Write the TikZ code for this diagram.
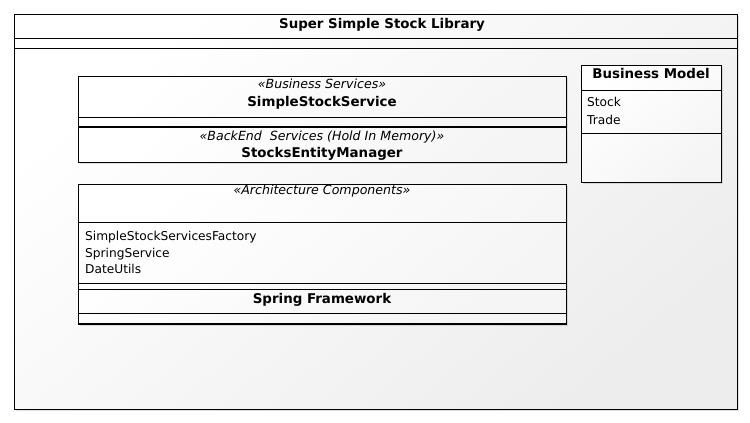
\documentclass[tikz,border=0pt]{standalone}
\usepackage{fontspec}
\setmainfont{DejaVu Sans}
\usetikzlibrary{shadows}
\begin{document}
\begin{tikzpicture}[x=1pt,y=-1pt,
  umlbox/.style={draw=black, line width=1pt, top color=white, bottom color=black!4, shading angle=40,
    drop shadow={shadow xshift=2pt, shadow yshift=-2pt, opacity=0.2, fill=black!60}},
  outerbox/.style={draw=black, line width=1pt, top color=white, bottom color=black!7, shading angle=40,
    drop shadow={shadow xshift=2pt, shadow yshift=-2pt, opacity=0.2, fill=black!60}},
  sep/.style={draw=black, line width=1pt},
  stereo/.style={anchor=base, font=\fontsize{12.6}{14}\selectfont\itshape, inner sep=0pt},
  cname/.style={anchor=base, font=\fontsize{13.4}{15}\selectfont\bfseries, inner sep=0pt},
  attr/.style={anchor=base west, font=\fontsize{12.2}{14}\selectfont, inner sep=0pt},
  ttl/.style={anchor=base, font=\fontsize{13.4}{15}\selectfont\bfseries, inner sep=0pt}]
\useasboundingbox (0,0) rectangle (750,423);
% outer package box
\path[outerbox] (14,14) rectangle (737,409);
\draw[sep] (14,38) -- (737,38);
\draw[sep] (14,48) -- (737,48);
\node[ttl] (title) at (382,28.5) {Super Simple Stock Library};
% SimpleStockService
\path[umlbox] (78,76) rectangle (566,126);
\draw[sep] (78,117) -- (566,117);
\node[stereo] (s1) at (322,88) {«Business Services»};
\node[cname] (n1) at (322,106) {SimpleStockService};
% StocksEntityManager
\path[umlbox] (78,127.5) rectangle (566,162);
\node[stereo] (s2) at (322,140.5) {«BackEnd\ \ Services (Hold In Memory)»};
\node[cname] (n2) at (322,157) {StocksEntityManager};
% Business Model
\path[umlbox] (581,65) rectangle (721,182);
\draw[sep] (581,90) -- (721,90);
\draw[sep] (581,133) -- (721,133);
\node[cname] (bm) at (651,78) {Business Model};
\node[attr] (stock) at (587,106.5) {Stock};
\node[attr] (trade) at (587,124) {Trade};
% Architecture Components
\path[umlbox] (78,184) rectangle (566,324);
\draw[sep] (78,222) -- (566,222);
\draw[sep] (78,283) -- (566,283);
\draw[sep] (78,289) -- (566,289);
\draw[sep] (78,313) -- (566,313);
\draw[black, line width=1pt] (78,323) -- (566,323);
\node[stereo] (s3) at (322,194) {«Architecture Components»};
\node[attr] (a1) at (85,240) {SimpleStockServicesFactory};
\node[attr] (a2) at (85,257) {SpringService};
\node[attr] (a3) at (85,273.5) {DateUtils};
\node[cname] (sf) at (322,303) {Spring Framework};
\end{tikzpicture}
\end{document}
